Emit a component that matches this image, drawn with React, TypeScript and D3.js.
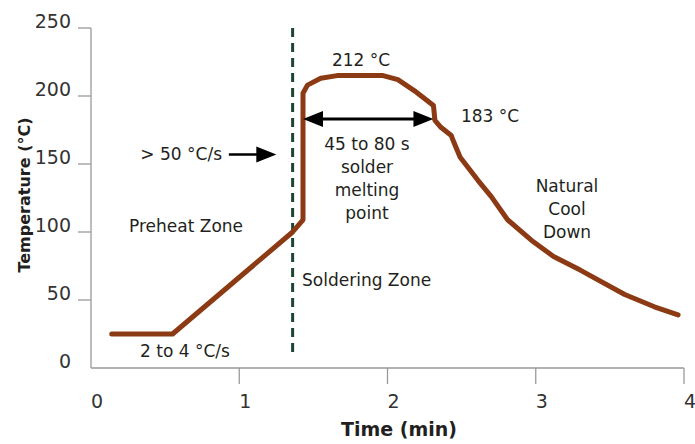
import React from "react";
import * as d3 from "d3";

// reflow profile
const timeMin = [0.14, 0.55, 1.36, 1.43, 1.43, 1.46, 1.55, 1.66, 1.97, 2.07, 2.18, 2.31, 2.32, 2.36, 2.43, 2.44, 2.49, 2.61, 2.7, 2.81, 2.97, 3.12, 3.3, 3.6, 3.8, 3.96];
const tempC = [25, 25, 100, 109, 202, 208, 213, 215, 215, 212, 204, 193, 182, 177, 171, 168, 155, 138, 126, 109, 94, 82, 72, 54, 45, 39];

const xTicks = [0, 1, 2, 3, 4];
const yTicks = [0, 50, 100, 150, 200, 250];

const zoneTime = 1.36;
const meltTemp = 183;
const meltStart = 1.43;
const meltEnd = 2.31;

const App = () => {
  const width = 695;
  const height = 444;
  const x = d3.scaleLinear().domain([0, 4]).range([91, 684]);
  const y = d3.scaleLinear().domain([0, 250]).range([368, 28]);

  const points: [number, number][] = timeMin.map((t, i) => [t, tempC[i]]);
  const line = d3
    .line<[number, number]>()
    .x((d) => x(d[0]))
    .y((d) => y(d[1]));

  const font = "DejaVu Sans, Verdana, sans-serif";
  const ink = "#231f20";
  const axisColor = "#9a9a9a";

  const head = (tipX: number, tipY: number, dir: number) => {
    const len = 20;
    const half = 8;
    return `M${tipX},${tipY}L${tipX - dir * len},${tipY - half}L${tipX - dir * len},${tipY + half}Z`;
  };

  const yArrow = y(meltTemp);
  const y50 = y(157);
  const ax0 = x(0.93);
  const ax1 = x(1.25);

  return (
    <svg
      width={width}
      height={height}
      style={{ position: "absolute", left: 0, top: 0, background: "#fff" }}
      fontFamily={font}
    >
      {/* axes */}
      <g stroke={axisColor} strokeWidth={1.3} fill="none">
        <line x1={x(0)} x2={x(0)} y1={y(250)} y2={y(0)} />
        <line x1={x(0)} x2={x(4)} y1={y(0)} y2={y(0)} />
        {yTicks.filter((v) => v > 0).map((v) => (
          <line key={v} x1={x(0) - 13} x2={x(0)} y1={y(v)} y2={y(v)} />
        ))}
        {xTicks.filter((v) => v > 0).map((v) => (
          <line key={v} x1={x(v)} x2={x(v)} y1={y(0)} y2={y(0) + 16} />
        ))}
      </g>
      <g fill="#333" fontSize={19}>
        {yTicks.map((v) => (
          <text key={v} x={71} y={y(v)} textAnchor="end">
            {v}
          </text>
        ))}
        {xTicks.map((v) => (
          <text key={v} x={x(v) + 6} y={408} textAnchor="middle">
            {v}
          </text>
        ))}
      </g>
      <text x={399} y={436} textAnchor="middle" fontSize={19} fontWeight="bold" fill={ink}>
        Time (min)
      </text>
      <text
        transform="translate(30,195) rotate(-90)"
        textAnchor="middle"
        fontSize={16}
        fontWeight="bold"
        fill={ink}
      >
        Temperature (°C)
      </text>

      {/* zone divider */}
      <line
        x1={x(zoneTime)}
        x2={x(zoneTime)}
        y1={y(250)}
        y2={y(11)}
        stroke="#1d4536"
        strokeWidth={3}
        strokeDasharray="9 6"
      />

      {/* profile */}
      <path
        d={line(points) ?? ""}
        fill="none"
        stroke="#8b3a14"
        strokeWidth={5}
        strokeLinejoin="round"
        strokeLinecap="round"
      />

      {/* melting interval arrow */}
      <line x1={x(meltStart) + 10} x2={x(meltEnd) - 10} y1={yArrow} y2={yArrow} stroke="#000" strokeWidth={3} />
      <path d={head(x(meltStart), yArrow, -1)} fill="#000" />
      <path d={head(x(meltEnd), yArrow, 1)} fill="#000" />

      {/* ramp arrow */}
      <line x1={ax0} x2={ax1 - 10} y1={y50} y2={y50} stroke="#000" strokeWidth={2.5} />
      <path d={head(ax1, y50, 1)} fill="#000" />

      <g fill={ink} fontSize={17}>
        <text x={361} y={66} textAnchor="middle">212 °C</text>
        <text x={490} y={122} textAnchor="middle">183 °C</text>
        <text x={222} y={160} textAnchor="end">&gt; 50 °C/s</text>
        <text x={367} y={150} textAnchor="middle">45 to 80 s</text>
        <text x={367} y={173} textAnchor="middle">solder</text>
        <text x={367} y={196} textAnchor="middle">melting</text>
        <text x={367} y={219} textAnchor="middle">point</text>
        <text x={186} y={232} textAnchor="middle">Preheat Zone</text>
        <text x={302} y={286}>Soldering Zone</text>
        <text x={185} y={357} textAnchor="middle">2 to 4 °C/s</text>
        <text x={567} y={192} textAnchor="middle">Natural</text>
        <text x={567} y={215} textAnchor="middle">Cool</text>
        <text x={567} y={238} textAnchor="middle">Down</text>
      </g>
    </svg>
  );
};

export default App;
